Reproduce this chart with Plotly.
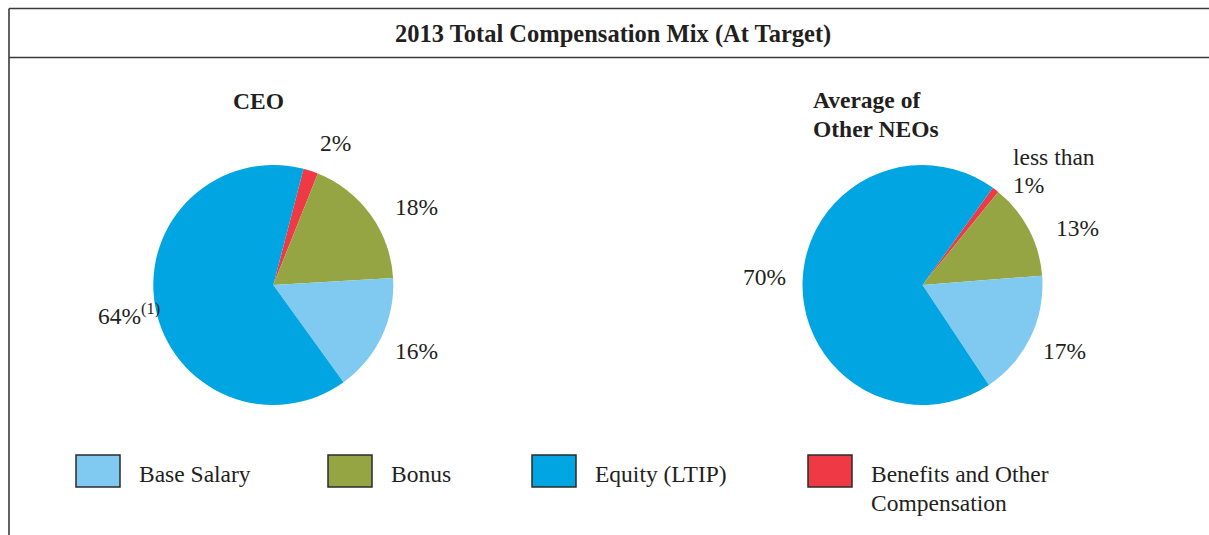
import plotly.graph_objects as go

# ---- data ----
categories = ["Benefits and Other Compensation", "Bonus", "Base Salary", "Equity (LTIP)"]
ceo_values = [2.0, 18.0, 16.0, 64.0]
neo_values = [0.9, 12.9, 16.9, 69.3]
ceo_labels = ["2%", "18%", "16%", "64%<sup>(1)</sup>"]
neo_labels = ["less than<br>1%", "13%", "17%", "70%"]
colors = ["#EF3A45", "#95A543", "#80C9F0", "#00A5E1"]
legend_order = ["Base Salary", "Bonus", "Equity (LTIP)", "Benefits and Other<br>Compensation"]
legend_colors = ["#80C9F0", "#95A543", "#00A5E1", "#EF3A45"]
title_text = "2013 Total Compensation Mix (At Target)"
pie_titles = ["CEO", "Average of<br>Other NEOs"]

W, H = 1209, 535
SERIF = "Liberation Serif, Times New Roman, serif"
FS = 23.5
LH = 28.5


def px(x):
    return x / W


def py(y):
    return 1 - y / H


R = 120
ceo_c = (273.3, 285)
neo_c = (922.5, 285)

fig = go.Figure()
for vals, c, rot in [(ceo_values, ceo_c, 14.6), (neo_values, neo_c, 35.9)]:
    fig.add_trace(go.Pie(
        labels=categories, values=vals, sort=False, direction="clockwise",
        rotation=rot, textinfo="none", hoverinfo="label+percent",
        marker=dict(colors=colors, line=dict(width=0)),
        domain=dict(x=[px(c[0] - R), px(c[0] + R)], y=[py(c[1] + R), py(c[1] - R)]),
        showlegend=False,
    ))

ann = []


def add_text(text, x, y, xanchor="center", bold=False, size=FS):
    for i, line_txt in enumerate(text.split("<br>")):
        t = f"<b>{line_txt}</b>" if bold else line_txt
        ann.append(dict(text=t, x=px(x), y=py(y + i * LH), xanchor=xanchor,
                        yanchor="middle", align="left",
                        font=dict(family=SERIF, size=size, color="#231F20")))


add_text(title_text, 613, 34, bold=True, size=24.5)
add_text(pie_titles[0], 258, 101, bold=True)
add_text(pie_titles[1], 811, 100, xanchor="left", bold=True)

# pie value labels (centers in px)
ceo_pos = [(335, 143, "center"), (416, 207, "center"), (416, 351, "center"), (96, 314, "left")]
neo_pos = [(1011, 157, "left"), (1077, 228, "center"), (1064, 351, "center"), (764, 277, "center")]
for labels, poss in [(ceo_labels, ceo_pos), (neo_labels, neo_pos)]:
    for t, (x, y, xa) in zip(labels, poss):
        add_text(t, x, y, xanchor=xa)

# legend
box_x = [76, 328, 532, 808]
shapes = []
for lab, col, bx in zip(legend_order, legend_colors, box_x):
    shapes.append(dict(type="rect", xref="paper", yref="paper",
                       x0=px(bx), x1=px(bx + 44), y0=py(487), y1=py(455),
                       fillcolor=col, line=dict(color="#2B2B2B", width=1.5)))
    add_text(lab, bx + 61, 474, xanchor="left")

# frame lines
line = dict(color="#3A3A3A", width=1.6)
shapes.append(dict(type="line", xref="paper", yref="paper", x0=px(9), x1=1.0, y0=py(8.5), y1=py(8.5), line=line))
shapes.append(dict(type="line", xref="paper", yref="paper", x0=px(9), x1=1.0, y0=py(57.5), y1=py(57.5), line=line))
shapes.append(dict(type="line", xref="paper", yref="paper", x0=px(9), x1=px(9), y0=0, y1=py(8.5), line=line))

for a in ann:
    a.setdefault("xref", "paper")
    a.setdefault("yref", "paper")
    a.setdefault("showarrow", False)

fig.update_layout(
    width=W, height=H, autosize=False,
    margin=dict(l=0, r=0, t=0, b=0),
    paper_bgcolor="white", plot_bgcolor="white",
    annotations=ann, shapes=shapes,
)
fig.write_html(
    "out.html",
    config={"displayModeBar": False},
    post_script="document.body.style.margin='0';document.body.style.overflow='hidden';",
)
